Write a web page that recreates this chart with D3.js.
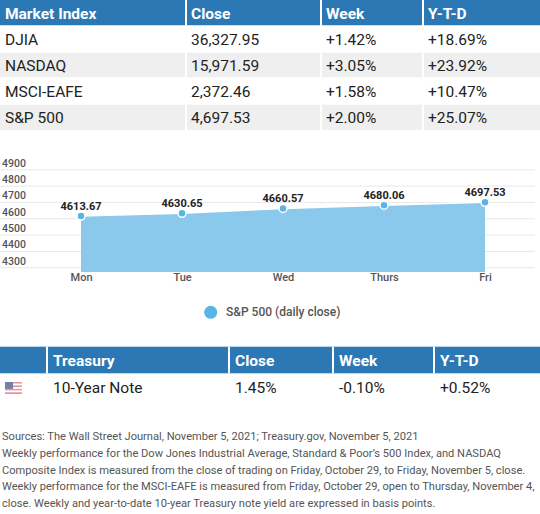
<!DOCTYPE html>
<html>
<head>
<meta charset="utf-8">
<script src="https://cdn.jsdelivr.net/npm/d3@7"></script>
<style>
  body { margin: 0; background: #fff; }
  svg { display: block; font-family: Roboto, "Noto Sans", sans-serif; }
</style>
</head>
<body>
<div id="chart"></div>
<script>
// ---- data ----
var indexHeaders = ["Market Index", "Close", "Week", "Y-T-D"];
var indexNames = ["DJIA", "NASDAQ", "MSCI-EAFE", "S&P 500"];
var indexClose = ["36,327.95", "15,971.59", "2,372.46", "4,697.53"];
var indexWeek = ["+1.42%", "+3.05%", "+1.58%", "+2.00%"];
var indexYtd = ["+18.69%", "+23.92%", "+10.47%", "+25.07%"];

var days = ["Mon", "Tue", "Wed", "Thurs", "Fri"];
var spClose = [4613.67, 4630.65, 4660.57, 4680.06, 4697.53];
var yTicks = [4300, 4400, 4500, 4600, 4700, 4800, 4900];
var seriesName = "S&P 500 (daily close)";

var treasuryHeaders = ["", "Treasury", "Close", "Week", "Y-T-D"];
var treasuryRow = ["", "10-Year Note", "1.45%", "-0.10%", "+0.52%"];

var sourceLines = [
  "Sources: The Wall Street Journal, November 5, 2021; Treasury.gov, November 5, 2021",
  "Weekly performance for the Dow Jones Industrial Average, Standard & Poor\u2019s 500 Index, and NASDAQ",
  "Composite Index is measured from the close of trading on Friday, October 29, to Friday, November 5, close.",
  "Weekly performance for the MSCI-EAFE is measured from Friday, October 29, open to Thursday, November 4,",
  "close. Weekly and year-to-date 10-year Treasury note yield are expressed in basis points."
];

var svgWidth = 540;
var svgHeight = 514;
var blue = "#2b78b5";
var rowGray = "#efefef";
var textDark = "#222";

var svg = d3.select("#chart")
  .append("svg")
  .attr("width", svgWidth)
  .attr("height", svgHeight);

// ---- top table ----
var topCols = [0, 186, 321, 423, 540];
var rowH = 26;
var topRows = indexNames.map(function (n, i) {
  return [n, indexClose[i], indexWeek[i], indexYtd[i]];
});

var topTable = svg.append("g");

topTable.append("rect")
  .attr("x", 0).attr("y", 0)
  .attr("width", svgWidth).attr("height", rowH)
  .attr("fill", blue);

topTable.selectAll(".hdr")
  .data(indexHeaders)
  .enter()
  .append("text")
  .attr("x", (d, i) => topCols[i] + 5)
  .attr("y", 19)
  .attr("fill", "#fff")
  .attr("font-size", 15.5)
  .attr("font-weight", "bold")
  .text(d => d);

var rowsG = topTable.selectAll(".row")
  .data(topRows)
  .enter()
  .append("g")
  .attr("transform", (d, i) => `translate(0, ${rowH * (i + 1)})`);

rowsG.append("rect")
  .attr("width", svgWidth)
  .attr("height", rowH)
  .attr("fill", (d, i) => i % 2 === 1 ? rowGray : "#fff");

rowsG.selectAll("text")
  .data(d => d)
  .enter()
  .append("text")
  .attr("x", (d, i) => topCols[i] + 5)
  .attr("y", 19)
  .attr("fill", textDark)
  .attr("font-size", 15.5)
  .text(d => d);

// white column separators
topTable.selectAll(".sep")
  .data(topCols.slice(1, -1))
  .enter()
  .append("line")
  .attr("x1", d => d).attr("x2", d => d)
  .attr("y1", 0).attr("y2", rowH * 5)
  .attr("stroke", "#fff")
  .attr("stroke-width", 2);

// white row separators
topTable.selectAll(".rsep")
  .data(d3.range(1, 5))
  .enter()
  .append("line")
  .attr("x1", 0).attr("x2", svgWidth)
  .attr("y1", d => d * rowH).attr("y2", d => d * rowH)
  .attr("stroke", "#fff")
  .attr("stroke-width", 1.5);

// ---- area chart ----
var xScale = d3.scalePoint()
  .domain(days)
  .range([30.5, 535.5])
  .padding(0.5);

var yBase = 4271;
var yScale = d3.scaleLinear()
  .domain([yBase, 4900])
  .range([272, 169.3]);

var leftAxis = d3.axisLeft(yScale)
  .tickValues(yTicks)
  .tickSize(-535)
  .tickFormat(d3.format("d"));

var yAxisG = svg.append("g")
  .call(leftAxis);

yAxisG.select(".domain").remove();
yAxisG.selectAll("line")
  .attr("stroke", "#e8e8e8");
yAxisG.selectAll("text")
  .attr("x", 2)
  .attr("dy", 0)
  .attr("y", -3)
  .attr("text-anchor", "start")
  .attr("fill", "#555")
  .attr("font-size", 10.5)
  .attr("font-weight", 500)
  .attr("font-family", "Roboto, sans-serif");

var area = d3.area()
  .x((d, i) => xScale(days[i]))
  .y0(yScale(yBase))
  .y1(d => yScale(d));

var topLine = d3.line()
  .x((d, i) => xScale(days[i]))
  .y(d => yScale(d));

svg.append("path")
  .datum(spClose)
  .attr("d", area)
  .attr("fill", "#8ac9eb");

svg.append("path")
  .datum(spClose)
  .attr("d", topLine)
  .attr("fill", "none")
  .attr("stroke", "#fff")
  .attr("stroke-width", 1.5);

var bottomAxis = d3.axisBottom(xScale).tickSize(0);
var xAxisG = svg.append("g")
  .attr("transform", `translate(0, ${yScale(yBase)})`)
  .call(bottomAxis);
xAxisG.select(".domain").remove();
xAxisG.selectAll("text")
  .attr("y", 1)
  .attr("fill", "#555")
  .attr("font-size", 11)
  .attr("font-weight", 500)
  .attr("font-family", "Roboto, sans-serif");

svg.selectAll(".pt")
  .data(spClose)
  .enter()
  .append("circle")
  .attr("cx", (d, i) => xScale(days[i]))
  .attr("cy", d => yScale(d))
  .attr("r", 4)
  .attr("fill", "#5ab4e5")
  .attr("stroke", "#fff")
  .attr("stroke-width", 1.5);

svg.selectAll(".val")
  .data(spClose)
  .enter()
  .append("text")
  .attr("x", (d, i) => xScale(days[i]))
  .attr("y", d => yScale(d) - 6)
  .attr("text-anchor", "middle")
  .attr("font-size", 11)
  .attr("font-weight", "bold")
  .attr("fill", textDark)
  .text(d => d3.format(".2f")(d));

// legend
svg.append("circle")
  .attr("cx", 210.7)
  .attr("cy", 312.3)
  .attr("r", 6.5)
  .attr("fill", "#5ab4e5");

svg.append("text")
  .attr("x", 226)
  .attr("y", 316)
  .attr("font-size", 12)
  .attr("font-weight", 500)
  .attr("fill", "#555")
  .text(seriesName);

// ---- treasury table ----
var trCols = [0, 47, 229, 333, 434, 540];
var trTop = 346.7;
var trG = svg.append("g");

trG.append("rect")
  .attr("x", 0).attr("y", trTop)
  .attr("width", svgWidth).attr("height", 26.6)
  .attr("fill", blue);

trG.selectAll(".trsep")
  .data(trCols.slice(1, -1))
  .enter()
  .append("line")
  .attr("x1", d => d).attr("x2", d => d)
  .attr("y1", trTop).attr("y2", trTop + 26.6)
  .attr("stroke", "#fff")
  .attr("stroke-width", 2);

trG.selectAll(".trh")
  .data(treasuryHeaders)
  .enter()
  .append("text")
  .attr("x", (d, i) => trCols[i] + 6)
  .attr("y", 366)
  .attr("fill", "#fff")
  .attr("font-size", 15.5)
  .attr("font-weight", "bold")
  .text(d => d);

trG.selectAll(".trv")
  .data(treasuryRow)
  .enter()
  .append("text")
  .attr("x", (d, i) => trCols[i] + 6)
  .attr("y", 392.5)
  .attr("fill", textDark)
  .attr("font-size", 15.5)
  .text(d => d);

// small US flag
var flag = trG.append("g")
  .attr("transform", "translate(5, 382)")
  .attr("opacity", 0.7);
flag.selectAll("rect")
  .data(d3.range(7))
  .enter()
  .append("rect")
  .attr("x", 0)
  .attr("y", d => d * 12 / 7)
  .attr("width", 17)
  .attr("height", 12 / 7)
  .attr("fill", d => d % 2 === 0 ? "#d9686f" : "#fff");
flag.append("rect")
  .attr("width", 8)
  .attr("height", 6.9)
  .attr("fill", "#3c4a7e");

// ---- sources ----
var srcG = svg.append("g");
var srcText = srcG.selectAll("text")
  .data(sourceLines)
  .enter()
  .append("text")
  .attr("x", 2)
  .attr("y", (d, i) => 440 + i * 16.8)
  .attr("font-size", 11.5)
  .attr("fill", "#555")
  .text(d => d);

// shrink the notes so the longest line fits within the page
var longest = d3.max(srcText.nodes(), n => n.getComputedTextLength());
var fitSize = Math.min(11.5, 11.5 * 533 / longest);
srcText.attr("font-size", fitSize);
</script>
</body>
</html>
